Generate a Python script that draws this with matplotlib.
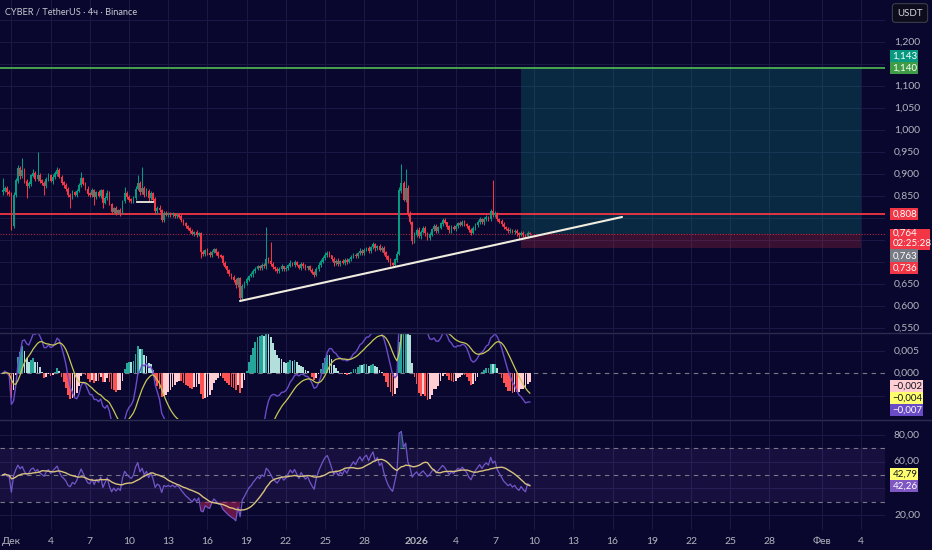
import numpy as np
import pandas as pd
import matplotlib
matplotlib.use("Agg")
import matplotlib.pyplot as plt
from matplotlib.patches import Rectangle

# CYBER / USDT, 4h candles, Nov 30 08:00 .. Jan 9 16:00 (days counted from Dec 1 00:00)
first_day = -4 / 6
first_open = 0.858
closes = [
    0.862, 0.868, 0.858, 0.855, 0.781, 0.852, 0.885, 0.912, 0.895, 0.908,
    0.884, 0.872, 0.878, 0.896, 0.902, 0.889, 0.897, 0.885, 0.879, 0.872,
    0.888, 0.896, 0.884, 0.893, 0.901, 0.909, 0.893, 0.880, 0.874, 0.866,
    0.852, 0.848, 0.858, 0.853, 0.861, 0.875, 0.889, 0.878, 0.866, 0.855,
    0.852, 0.862, 0.848, 0.858, 0.851, 0.862, 0.835, 0.845, 0.856, 0.832,
    0.814, 0.822, 0.812, 0.818, 0.811, 0.838, 0.856, 0.848, 0.842, 0.838,
    0.845, 0.866, 0.879, 0.858, 0.868, 0.852, 0.861, 0.845, 0.856, 0.842,
    0.815, 0.823, 0.818, 0.795, 0.811, 0.807, 0.810, 0.806, 0.809, 0.804,
    0.807, 0.803, 0.795, 0.788, 0.781, 0.776, 0.770, 0.764, 0.768, 0.761,
    0.765, 0.722, 0.718, 0.726, 0.720, 0.716, 0.723, 0.728, 0.721, 0.714,
    0.712, 0.698, 0.689, 0.681, 0.672, 0.665, 0.659, 0.647, 0.662, 0.618,
    0.645, 0.652, 0.660, 0.668, 0.672, 0.679, 0.684, 0.690, 0.686, 0.693,
    0.690, 0.706, 0.702, 0.695, 0.688, 0.683, 0.679, 0.684, 0.689, 0.683,
    0.686, 0.692, 0.698, 0.694, 0.699, 0.693, 0.687, 0.695, 0.690, 0.686,
    0.689, 0.682, 0.676, 0.671, 0.684, 0.693, 0.701, 0.709, 0.716, 0.720,
    0.714, 0.706, 0.697, 0.702, 0.696, 0.701, 0.698, 0.704, 0.700, 0.706,
    0.711, 0.716, 0.713, 0.720, 0.725, 0.721, 0.727, 0.730, 0.725, 0.733,
    0.739, 0.731, 0.736, 0.728, 0.732, 0.721, 0.712, 0.704, 0.698, 0.694,
    0.705, 0.718, 0.862, 0.878, 0.842, 0.868, 0.810, 0.790, 0.748, 0.762,
    0.772, 0.758, 0.768, 0.776, 0.766, 0.755, 0.762, 0.774, 0.781, 0.770,
    0.778, 0.787, 0.795, 0.789, 0.780, 0.772, 0.779, 0.775, 0.782, 0.788,
    0.785, 0.791, 0.786, 0.781, 0.772, 0.767, 0.776, 0.784, 0.790, 0.796,
    0.790, 0.797, 0.801, 0.798, 0.814, 0.806, 0.810, 0.798, 0.792, 0.786,
    0.779, 0.775, 0.771, 0.773, 0.768, 0.770, 0.765, 0.762, 0.766, 0.761,
    0.758, 0.766, 0.764,
]
# wick lengths above / below the body, in 0.001 USDT
wick_up = [
    30, 5, 4, 6, 4, 6, 5, 8, 6, 29, 5, 4, 6, 5, 9, 4, 54, 5, 4, 6,
    5, 7, 4, 6, 5, 8, 4, 5, 3, 6, 4, 5, 6, 3, 5, 4, 16, 5, 4, 6,
    4, 6, 5, 3, 6, 4, 5, 4, 7, 5, 3, 4, 6, 3, 5, 4, 15, 5, 4, 3,
    5, 6, 19, 4, 48, 5, 7, 4, 6, 3, 5, 4, 6, 3, 4, 5, 3, 4, 5, 3,
    4, 3, 5, 3, 4, 3, 4, 5, 3, 4, 3, 4, 5, 3, 6, 4, 5, 3, 4, 3,
    4, 3, 5, 3, 4, 3, 5, 4, 3, 5, 6, 4, 5, 3, 6, 4, 5, 3, 4, 5,
    4, 73, 5, 44, 4, 3, 5, 4, 6, 3, 5, 4, 6, 3, 5, 4, 3, 6, 4, 5,
    3, 4, 5, 3, 4, 6, 5, 4, 6, 5, 4, 3, 5, 4, 6, 3, 5, 4, 5, 3,
    6, 4, 5, 3, 6, 4, 5, 3, 6, 4, 7, 5, 3, 6, 4, 5, 3, 4, 5, 3,
    4, 6, 8, 44, 7, 44, 6, 5, 4, 6, 5, 7, 4, 6, 5, 3, 6, 4, 5, 6,
    4, 5, 6, 4, 3, 5, 4, 6, 5, 3, 6, 4, 5, 3, 4, 5, 6, 4, 5, 7,
    4, 5, 6, 3, 6, 72, 5, 4, 3, 5, 4, 3, 5, 4, 3, 5, 4, 3, 4, 5,
    3, 4, 3,
]
wick_dn = [
    5, 4, 6, 5, 8, 3, 4, 5, 6, 4, 5, 27, 4, 5, 3, 6, 4, 5, 4, 20,
    4, 5, 3, 6, 4, 5, 3, 4, 6, 5, 4, 26, 5, 4, 6, 3, 5, 4, 3, 6,
    5, 4, 18, 5, 4, 6, 13, 4, 5, 3, 6, 4, 5, 4, 6, 3, 5, 4, 6, 5,
    4, 5, 3, 6, 4, 5, 3, 6, 4, 5, 4, 6, 5, 5, 4, 3, 5, 4, 3, 4,
    3, 4, 3, 5, 4, 3, 4, 3, 5, 4, 3, 12, 5, 4, 3, 5, 4, 3, 5, 4,
    3, 4, 3, 5, 4, 3, 4, 5, 3, 6, 4, 3, 5, 4, 3, 5, 4, 3, 4, 5,
    3, 5, 4, 3, 5, 4, 3, 5, 4, 3, 4, 5, 3, 4, 5, 3, 4, 5, 3, 4,
    5, 3, 4, 5, 3, 4, 5, 3, 4, 5, 3, 4, 5, 3, 4, 5, 3, 4, 5, 3,
    4, 3, 5, 4, 3, 5, 4, 3, 5, 4, 3, 5, 4, 3, 6, 4, 5, 3, 6, 4,
    3, 4, 3, 5, 4, 6, 5, 4, 8, 5, 6, 4, 5, 3, 6, 4, 5, 3, 4, 5,
    3, 4, 5, 3, 4, 5, 6, 3, 4, 5, 3, 4, 5, 3, 4, 5, 3, 4, 5, 3,
    4, 5, 3, 4, 5, 3, 4, 5, 3, 4, 5, 3, 4, 5, 3, 4, 5, 10, 4, 5,
    3, 4, 3,
]

tick_days = [0, 3, 6, 9, 12, 15, 18, 21, 24, 27, 31, 34, 37, 40, 43, 46, 49, 52, 55, 58, 62, 65]
tick_text = ["Дек", "4", "7", "10", "13", "16", "19", "22", "25", "28", "2026",
             "4", "7", "10", "13", "16", "19", "22", "25", "28", "Фев", "4"]
price_ticks = [1.2, 1.1, 1.05, 1.0, 0.95, 0.9, 0.85, 0.65, 0.6, 0.55]
price_grid = [0.55, 0.6, 0.65, 0.7, 0.75, 0.8, 0.85, 0.9, 0.95, 1.0, 1.05, 1.1, 1.15, 1.2, 1.25]

green_level = 1.140
red_level = 0.808
last_price = 0.764
target, entry, stop = 1.143, 0.763, 0.732
box_days = (39.0, 65.0)
trend = ([17.49, 46.72], [0.6114, 0.8023])
small_line = ([9.61, 10.83], [0.837, 0.837])

W, H = 932, 550
BG = "#09072e"
GRID = "#1b1a46"
TXT = "#b2b5be"
UP = "#089981"
DN = "#f23645"
plt.rcParams["font.family"] = ["Lato", "DejaVu Sans"]


def fx(px):
    return px / W


def fy(py):
    return 1 - py / H


fig = plt.figure(figsize=(W / 100, H / 100), dpi=100, facecolor=BG)

# x: days since Dec 1, px = 11.4 + 13.07 * day
x0 = -11.4 / 13.07
x1 = (885 - 11.4) / 13.07

ax = fig.add_axes([0, fy(332), fx(885), 332 / H])
axm = fig.add_axes([0, fy(419), fx(885), 86 / H])
axr = fig.add_axes([0, fy(530), fx(885), 110 / H])
for a in (ax, axm, axr):
    a.set_axis_off()
    a.set_xlim(x0, x1)
    for d in tick_days:
        a.axvline(d, color=GRID, lw=0.7, zorder=0)

ax.set_ylim(1.2 - 290 / 440, 1.2 + 42 / 440)
axm.set_ylim((373.3 - 419) / 4520, (373.3 - 333) / 4520)
axr.set_ylim(8.75, 91.25)

# candles
n = len(closes)
days = first_day + np.arange(n) / 6
c = np.array(closes)
o = np.r_[first_open, c[:-1]]
hi = np.maximum(o, c) + np.array(wick_up) / 1000
lo = np.minimum(o, c) - np.array(wick_dn) / 1000
cols = np.where(c >= o, UP, DN)

for p in price_grid:
    ax.axhline(p, color=GRID, lw=0.7, zorder=0)

ax.add_patch(Rectangle((box_days[0], entry), box_days[1] - box_days[0], target - entry,
                       fc=UP, alpha=0.24, lw=0, zorder=1))
ax.add_patch(Rectangle((box_days[0], stop), box_days[1] - box_days[0], entry - stop,
                       fc=DN, alpha=0.2, lw=0, zorder=1))
ax.axhline(green_level, color="#4caf50", lw=1.3, zorder=2)
ax.axhline(red_level, color=DN, lw=1.3, zorder=2)
ax.axhline(last_price, color=DN, lw=0.8, ls=(0, (1, 1.5)), alpha=0.7, zorder=2)

ax.vlines(days, lo, hi, colors=cols, lw=0.75, zorder=3)
ax.bar(days, np.abs(c - o) + 0.0008, bottom=np.minimum(o, c), width=0.135,
       color=cols, lw=0, zorder=3)
ax.plot(*trend, color="#f0ede0", lw=1.5, zorder=4, solid_capstyle="round")
ax.plot(*small_line, color="#f0ede0", lw=1.3, zorder=4)

# MACD 12 26 9
s = pd.Series(c)
macd = s.ewm(span=12, adjust=False).mean() - s.ewm(span=26, adjust=False).mean()
signal = macd.ewm(span=9, adjust=False).mean()
hist = (macd - signal).values
prev = np.r_[hist[0], hist[:-1]]
hcol = np.where(hist >= 0, np.where(hist >= prev, "#26a69a", "#b2dfdb"),
                np.where(hist < prev, "#ff5252", "#ffcdd2"))
for v in (0.005, -0.005):
    axm.axhline(v, color=GRID, lw=0.7, zorder=0)
axm.axhline(0, color="#787b86", lw=0.8, ls=(0, (4, 4)), zorder=1)
axm.bar(days, hist, width=0.135, color=hcol, lw=0, zorder=2)
axm.plot(days, macd, color="#6a4bc8", lw=1.0, zorder=3)
axm.plot(days, signal, color="#c9c857", lw=0.9, zorder=3)

# RSI 14 (Wilder), started from a neutral average, with 14 SMA
delta = np.diff(c, prepend=c[0])
gain = np.clip(delta, 0, None)
loss = np.clip(-delta, 0, None)
ag = al = np.abs(delta[1:15]).mean() / 2
rsi = np.empty(n)
for k in range(n):
    ag = (ag * 13 + gain[k]) / 14
    al = (al * 13 + loss[k]) / 14
    rsi[k] = 100 - 100 / (1 + ag / al)
rsi_ma = pd.Series(rsi).rolling(14, min_periods=1).mean().values
for v in (20, 40, 60, 80):
    axr.axhline(v, color=GRID, lw=0.7, zorder=0)
axr.axhspan(30, 70, color="#7e57c2", alpha=0.12, lw=0, zorder=0)
for v in (70, 50, 30):
    axr.axhline(v, color="#787b86", lw=0.8, ls=(0, (4, 4)), zorder=1)
axr.fill_between(days, rsi, 30, where=rsi < 30, color="#b2225a", alpha=0.55, lw=0, zorder=2)
axr.fill_between(days, rsi, 70, where=rsi > 70, color="#26a69a", alpha=0.35, lw=0, zorder=2)
axr.plot(days, rsi, color="#7256c8", lw=0.9, zorder=3)
axr.plot(days, rsi_ma, color="#d8c27e", lw=1.0, zorder=3)

# pane separators
for py in (332.5, 419.5):
    fig.add_artist(plt.Line2D([0, 1], [fy(py), fy(py)], color="#2b2b4e", lw=1.0))

# right scale
FS = 7.5
for p in price_ticks:
    fig.text(fx(894), fy(42 + (1.2 - p) * 440), f"{p:.3f}".replace(".", ","),
             color=TXT, fontsize=FS, va="center")
for v in (0.005, 0.0):
    fig.text(fx(894), fy(373.3 - v * 4520), f"{v:.3f}".replace(".", ","),
             color=TXT, fontsize=FS, va="center")
for v in (80, 60, 20):
    fig.text(fx(894), fy(435 + (80 - v) * 4 / 3), f"{v:.2f}".replace(".", ","),
             color=TXT, fontsize=FS, va="center")


def tag(py, h, text, fc, tc, right=918):
    fig.add_artist(Rectangle((fx(890), fy(py + h / 2)), fx(right - 890), h / H,
                             transform=fig.transFigure, fc=fc, ec="none"))
    fig.text(fx(892.5), fy(py), text, color=tc, fontsize=7.0, va="center")


tag(55.7, 12, "1,143", UP, "white")
tag(67.7, 12, "1,140", "#3f9b45", "white")
tag(214.3, 12, "0,808", DN, "white")
fig.add_artist(Rectangle((fx(890), fy(249.5)), fx(40), 20.5 / H,
                         transform=fig.transFigure, fc=DN, ec="none"))
fig.text(fx(892.5), fy(233.5), "0,764", color="white", fontsize=7.0, va="center")
fig.text(fx(892.5), fy(243.5), "02:25:28", color="white", fontsize=7.0, va="center")
tag(255.7, 12.5, "0,763", "#787b86", "white")
tag(267.8, 12.5, "0,736", DN, "white")
tag(385.7, 12, "\u22120,002", "#ffcdd2", "#131722", right=923)
tag(398.0, 12, "\u22120,004", "#ffff6d", "#131722", right=923)
tag(410.0, 12, "\u22120,007", "#6a4bc8", "white", right=923)
tag(474.0, 12, "42,79", "#ffff6d", "#131722")
tag(486.0, 12, "42,26", "#7e57c2", "white")

fig.text(fx(910), fy(13), "USDT", color="#d1d4dc", fontsize=7.0, ha="center", va="center",
         bbox=dict(boxstyle="round,pad=0.5,rounding_size=0.3", fc="#0c0c1c", ec="#3a3e4c", lw=0.8))

# time axis
for d, t in zip(tick_days, tick_text):
    fig.text(fx(11.4 + 13.07 * d), fy(541), t, color=TXT, fontsize=FS,
             ha="center", va="center", fontweight="bold" if t == "2026" else "normal")

fig.text(fx(5), fy(12), "CYBER / TetherUS \u00b7 4\u0447 \u00b7 Binance", color="#c8cad2",
         fontsize=6.6, va="center")

fig.savefig("out.png", dpi=100, facecolor=BG)
